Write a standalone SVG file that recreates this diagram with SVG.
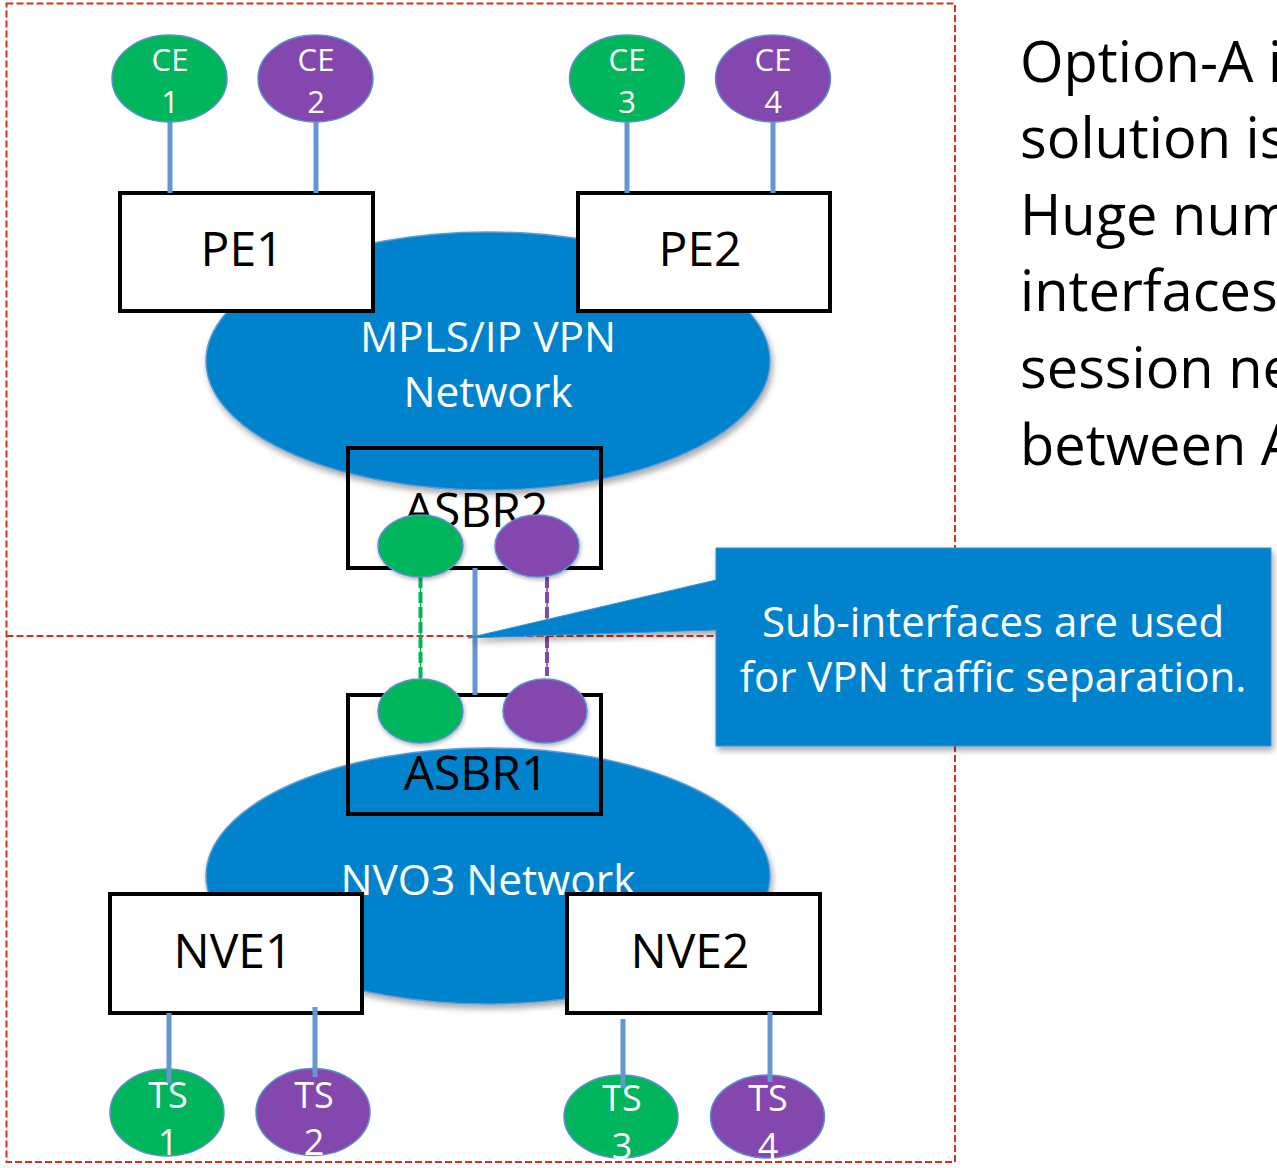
<svg xmlns="http://www.w3.org/2000/svg" width="1277" height="1168" viewBox="0 0 1277 1168">
<defs>
<filter id="shadow" x="-10%" y="-10%" width="125%" height="130%">
<feGaussianBlur in="SourceAlpha" stdDeviation="3"/>
<feOffset dx="2" dy="4" result="b"/>
<feComponentTransfer><feFuncA type="linear" slope="0.35"/></feComponentTransfer>
<feMerge><feMergeNode/><feMergeNode in="SourceGraphic"/></feMerge>
</filter>
<filter id="shadowsm" x="-10%" y="-10%" width="125%" height="130%">
<feGaussianBlur in="SourceAlpha" stdDeviation="2"/>
<feOffset dx="1" dy="2" result="b"/>
<feComponentTransfer><feFuncA type="linear" slope="0.3"/></feComponentTransfer>
<feMerge><feMergeNode/><feMergeNode in="SourceGraphic"/></feMerge>
</filter>
</defs>
<style>
.frame{fill:none;stroke:#d9301c;stroke-width:2;stroke-dasharray:7 3}
.net{fill:#0283cc;stroke:#5a9ad6;stroke-width:1.5}
.box{stroke:#000;stroke-width:4}
.wbox{fill:#fff}
.obox{fill:none}
.green{fill:#00b55c;stroke:#5b8fd0;stroke-width:1.5}
.purple{fill:#8447ad;stroke:#5b8fd0;stroke-width:1.5}
.conn{stroke:#6596cc;stroke-width:5;fill:none}
.t{font-family:"Open Sans","Liberation Sans",sans-serif;text-anchor:middle}
.wt{fill:#fff}
.bt{fill:#000}
.nl{font-size:31px}
.tl{font-size:36px}
.bl{font-size:48px}
.netl{font-size:42.5px}
.cl{font-size:42px}
.rt{font-family:"Open Sans","Liberation Sans",sans-serif;font-size:56px;fill:#000}
</style>
<g id="frame">
<rect class="frame" x="6.5" y="3.5" width="948.5" height="1158.5"/>
<line class="frame" x1="6.5" y1="636" x2="955" y2="636"/>
</g>
<g id="mpls">
<ellipse class="net" cx="488" cy="361" rx="282" ry="129" filter="url(#shadow)"/>
<text class="t wt netl" x="488" y="352">MPLS/IP VPN</text>
<text class="t wt netl" x="488" y="407">Network</text>
</g>
<g id="nvo3">
<ellipse class="net" cx="488" cy="876" rx="282" ry="128" filter="url(#shadow)"/>
<text class="t wt netl" x="488" y="895">NVO3 Network</text>
</g>
<g id="PE1"><rect class="box wbox" x="120" y="193" width="253" height="118"/><text class="t bt bl" x="242" y="266">PE1</text></g>
<g id="PE2"><rect class="box wbox" x="578" y="193" width="252" height="118"/><text class="t bt bl" x="700" y="266">PE2</text></g>
<g id="ASBR2"><rect class="box obox" x="348" y="448" width="253" height="120"/><text class="t bt bl" x="476" y="527">ASBR2</text></g>
<g id="ASBR1"><rect class="box obox" x="348" y="695" width="253" height="119"/><text class="t bt bl" x="476" y="790">ASBR1</text></g>
<g id="NVE1"><rect class="box wbox" x="110" y="894" width="252" height="119"/><text class="t bt bl" x="233" y="968">NVE1</text></g>
<g id="NVE2"><rect class="box wbox" x="567" y="894" width="253" height="119"/><text class="t bt bl" x="690" y="968">NVE2</text></g>
<g id="connectors">
<line class="conn" x1="170" y1="122" x2="170" y2="193"/>
<line class="conn" x1="316" y1="122" x2="316" y2="193"/>
<line class="conn" x1="627" y1="122" x2="627" y2="193"/>
<line class="conn" x1="773" y1="122" x2="773" y2="193"/>
<line class="conn" x1="475" y1="568" x2="475" y2="695"/>
<line stroke="#00b55c" stroke-width="1.5" x1="420.5" y1="577" x2="420.5" y2="680"/>
<line stroke="#00b55c" stroke-width="4" stroke-dasharray="11 4" x1="420.5" y1="577" x2="420.5" y2="680"/>
<line stroke="#8447ad" stroke-width="1.5" x1="547" y1="577" x2="547" y2="676"/>
<line stroke="#8447ad" stroke-width="4" stroke-dasharray="11 4" x1="547" y1="577" x2="547" y2="676"/>
</g>
<g id="CE1"><ellipse class="green" cx="169.5" cy="78.5" rx="57.5" ry="43.5"/><text class="t wt nl" x="170" y="71">CE</text><text class="t wt nl" x="170" y="113">1</text></g>
<g id="CE2"><ellipse class="purple" cx="315.5" cy="78.5" rx="57.5" ry="43.5"/><text class="t wt nl" x="316" y="71">CE</text><text class="t wt nl" x="316" y="113">2</text></g>
<g id="CE3"><ellipse class="green" cx="627" cy="78.5" rx="57.5" ry="43.5"/><text class="t wt nl" x="627" y="71">CE</text><text class="t wt nl" x="627" y="113">3</text></g>
<g id="CE4"><ellipse class="purple" cx="773" cy="78.5" rx="57.5" ry="43.5"/><text class="t wt nl" x="773" y="71">CE</text><text class="t wt nl" x="773" y="113">4</text></g>
<g id="ASBR2-sub-green"><ellipse class="green" cx="420.5" cy="546" rx="42.5" ry="31" filter="url(#shadowsm)"/></g>
<g id="ASBR2-sub-purple"><ellipse class="purple" cx="537" cy="546" rx="42" ry="31" filter="url(#shadowsm)"/></g>
<g id="ASBR1-sub-green"><ellipse class="green" cx="420.5" cy="711" rx="42.5" ry="32" filter="url(#shadowsm)"/></g>
<g id="ASBR1-sub-purple"><ellipse class="purple" cx="545" cy="711" rx="42" ry="32" filter="url(#shadowsm)"/></g>
<g id="TS1"><ellipse class="green" cx="167" cy="1112.5" rx="57" ry="43.5"/><text class="t wt tl" x="168" y="1108">TS</text><text class="t wt tl" x="168" y="1155">1</text></g>
<g id="TS2"><ellipse class="purple" cx="313" cy="1112" rx="57" ry="43.5"/><text class="t wt tl" x="314" y="1108">TS</text><text class="t wt tl" x="314" y="1155">2</text></g>
<g id="TS3"><ellipse class="green" cx="621" cy="1116.5" rx="57" ry="41.5"/><text class="t wt tl" x="622" y="1111">TS</text><text class="t wt tl" x="622" y="1159">3</text></g>
<g id="TS4"><ellipse class="purple" cx="767.5" cy="1116.5" rx="57" ry="41.5"/><text class="t wt tl" x="768" y="1111">TS</text><text class="t wt tl" x="768" y="1159">4</text></g>
<g id="ts-connectors">
<line class="conn" x1="169" y1="1013" x2="169" y2="1083"/>
<line class="conn" x1="315" y1="1007" x2="315" y2="1077"/>
<line class="conn" x1="623" y1="1019" x2="623" y2="1088"/>
<line class="conn" x1="770" y1="1012" x2="770" y2="1082"/>
</g>
<g id="callout">
<path d="M716 548 H1271 V746 H716 V630 L468 638 L716 580 Z" fill="#0283cc" stroke="#3d8fd2" stroke-width="1" filter="url(#shadow)"/>
<text class="t wt cl" x="993" y="637">Sub-interfaces are used</text>
<text class="t wt cl" x="993" y="692">for VPN traffic separation.</text>
</g>
<g id="side-text">
<text class="rt" x="1020" y="82">Option-A i</text>
<text class="rt" x="1020" y="158">solution is</text>
<text class="rt" x="1020" y="235">Huge num</text>
<text class="rt" x="1020" y="311">interfaces</text>
<text class="rt" x="1020" y="388">session ne</text>
<text class="rt" x="1020" y="465">between A</text>
</g>
</svg>
